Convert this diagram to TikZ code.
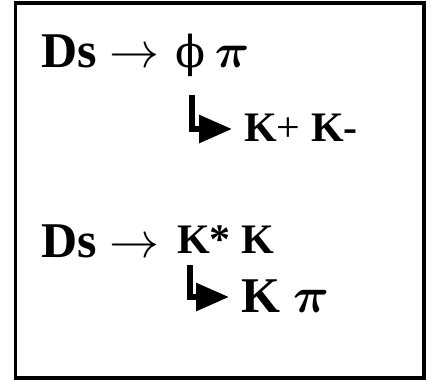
\documentclass[tikz,border=0pt]{standalone}
\usepackage{fontspec}
\setmainfont{Liberation Serif}
\newfontfamily\greekfont{DejaVu Serif}
\usepackage{tikz}
\usetikzlibrary{arrows.meta}
\usetikzlibrary{positioning}

\begin{document}
\begin{tikzpicture}[%
x={(1pt,0pt)},
y={(0pt,-1pt)},
txt/.style={anchor=base west,inner sep=0pt},
big/.style={txt,font=\fontsize{50}{60}\selectfont\bfseries},
small/.style={txt,font=\fontsize{42}{50}\selectfont\bfseries},
sym/.style={txt,font=\fontsize{10}{12}\selectfont,scale=#1},
bsym/.style={txt,font=\fontsize{10}{12}\selectfont\boldmath,scale=#1},
decay/.style={line width=6pt,line join=miter,-{Triangle[width=27pt,length=33pt]}},
]

\useasboundingbox (0,0) rectangle (431,381);

%Rahmen
\draw[line width=3.5pt] (15.5,3) rectangle (424,378);

%Zeile 1
\node[big](ds1) at (41,67){Ds};
\node[sym=5](arr1) at (108,67){$\rightarrow$};
\node[txt,font=\fontsize{44}{50}\selectfont\greekfont](phi) at (175,67){ϕ};
\node[bsym=4.8](pi1) at (214,67){$\pi$};

%Zeile 2
\coordinate (top1) at (191.5,95);
\coordinate (tip1) at (232,129);
\node[small](kpkm) at (244,141){K\textmd{+} K-};
\draw[decay] (top1) |- (tip1);

%Zeile 3
\node[big](ds2) at (41,257){Ds};
\node[sym=5](arr2) at (108,257){$\rightarrow$};
\node[small](kstk) at (177,253){K* K};

%Zeile 4
\coordinate (top2) at (190,265);
\coordinate (tip2) at (229,297);
\node[big](kaon) at (241,312){K};
\node[bsym=5](pi2) at (292,312){$\pi$};
\draw[decay] (top2) |- (tip2);

\end{tikzpicture}
\end{document}
